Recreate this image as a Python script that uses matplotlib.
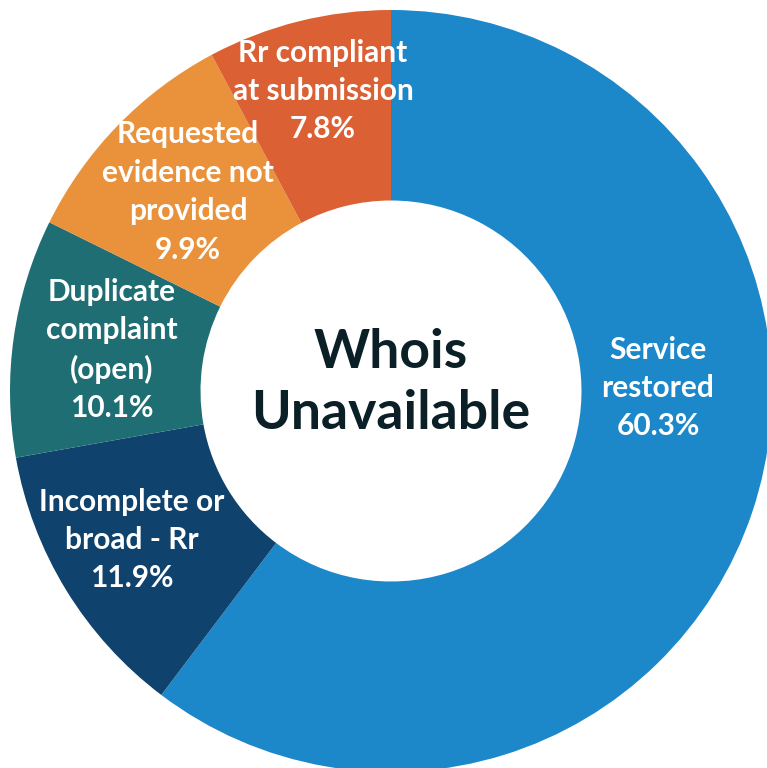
import matplotlib.pyplot as plt

plt.rcParams['font.family'] = ['Lato', 'DejaVu Sans']

# data
labels = ["Service\nrestored", "Incomplete or\nbroad - Rr", "Duplicate\ncomplaint\n(open)",
          "Requested\nevidence not\nprovided", "Rr compliant\nat submission"]
values = [60.3, 11.9, 10.1, 9.9, 7.8]
colors = ["#1c87c9", "#0f426c", "#1e6e73", "#e9913b", "#db6034"]

# label centres in pixels of the 767x768 picture (x from left, y from top)
label_px = [(658, 388), (132, 540), (112, 350), (188, 192), (323, 91)]

W, H = 767, 768
cx, cy, R = 391, 391, 381

fig = plt.figure(figsize=(W / 100, H / 100), dpi=100)
ax = fig.add_axes([0, 0, 1, 1])
ax.pie(values, colors=colors, startangle=90, counterclock=False, radius=1,
       wedgeprops=dict(width=0.5, edgecolor="none"))
ax.set_xlim(-cx / R, (W - cx) / R)
ax.set_ylim(-(H - cy) / R, cy / R)
ax.set_aspect("equal")
ax.axis("off")

for lab, v, (px, py) in zip(labels, values, label_px):
    ax.text((px - cx) / R, (cy - py) / R, f"{lab}\n{v}%", ha="center", va="center",
            color="white", fontsize=21.5, fontweight="bold", linespacing=1.45)

ax.text(0, 8 / R, "Whois\nUnavailable", ha="center", va="center", color="#0b1f26",
        fontsize=38.5, fontweight="bold", linespacing=1.3)

fig.savefig("out.png", dpi=100)
